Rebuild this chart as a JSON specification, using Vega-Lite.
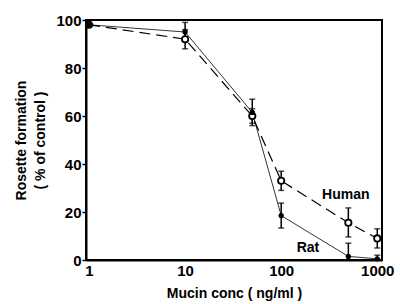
{
  "$schema": "https://vega.github.io/schema/vega-lite/v6.json",
  "width": 296,
  "height": 240,
  "autosize": {"type": "none"},
  "padding": {"left": 86, "top": 20, "right": 18, "bottom": 44},
  "background": "white",
  "config": {
    "view": {"stroke": "black", "strokeWidth": 2},
    "font": "Liberation Sans",
    "axis": {"grid": false, "domainColor": "black", "domainWidth": 2, "tickColor": "black", "labelColor": "black", "titleColor": "black", "labelFont": "Liberation Sans", "titleFont": "Liberation Sans", "labelFontWeight": "bold", "titleFontWeight": "bold", "labelFontSize": 15, "titleFontSize": 14}
  },
  "data": {
    "values": [
      {"series": "Human", "conc": 1, "val": 98, "lo": 98, "hi": 98},
      {"series": "Human", "conc": 10, "val": 92, "lo": 88, "hi": 96},
      {"series": "Human", "conc": 50, "val": 60, "lo": 57, "hi": 63},
      {"series": "Human", "conc": 100, "val": 33, "lo": 29, "hi": 37},
      {"series": "Human", "conc": 500, "val": 15.5, "lo": 9.6, "hi": 21.7},
      {"series": "Human", "conc": 1000, "val": 9, "lo": 5, "hi": 13},
      {"series": "Rat", "conc": 1, "val": 98, "lo": 98, "hi": 98},
      {"series": "Rat", "conc": 10, "val": 95, "lo": 91, "hi": 99},
      {"series": "Rat", "conc": 50, "val": 61.5, "lo": 56, "hi": 67},
      {"series": "Rat", "conc": 100, "val": 18.5, "lo": 13.3, "hi": 23.7},
      {"series": "Rat", "conc": 500, "val": 1.5, "lo": 0, "hi": 7},
      {"series": "Rat", "conc": 1000, "val": 0.5, "lo": 0, "hi": 2}
    ]
  },
  "encoding": {
    "x": {"field": "conc", "type": "quantitative", "scale": {"type": "log", "domain": [0.93, 1120], "nice": false},
      "axis": {"values": [1, 10, 100, 1000], "format": "d", "title": "Mucin conc ( ng/ml )", "tickSize": 0, "labelPadding": 3, "titlePadding": 8}},
    "y": {"field": "val", "type": "quantitative", "scale": {"domain": [0, 100], "nice": false},
      "axis": {"values": [0, 20, 40, 60, 80, 100], "title": ["Rosette formation", "( % of control )"], "tickSize": 4, "tickWidth": 1.5, "labelPadding": 1, "titlePadding": 8, "titleLineHeight": 19}}
  },
  "layer": [
    {
      "transform": [{"filter": "datum.series == 'Human'"}],
      "mark": {"type": "line", "color": "black", "strokeWidth": 1.2, "strokeDash": [11, 6]}
    },
    {
      "transform": [{"filter": "datum.series == 'Rat'"}],
      "mark": {"type": "line", "color": "black", "strokeWidth": 0.8}
    },
    {
      "mark": {"type": "errorbar", "color": "black", "thickness": 1.5, "ticks": {"size": 6, "color": "black", "thickness": 1.5}},
      "encoding": {
        "y": {"field": "lo", "type": "quantitative", "title": null},
        "y2": {"field": "hi"}
      }
    },
    {
      "transform": [{"filter": "datum.series == 'Human'"}],
      "mark": {"type": "point", "shape": "circle", "filled": true, "fill": "white", "stroke": "black", "strokeWidth": 1.8, "size": 40, "opacity": 1}
    },
    {
      "transform": [{"filter": "datum.series == 'Rat'"}],
      "mark": {"type": "point", "shape": "circle", "filled": true, "color": "black", "size": 28, "opacity": 1}
    },
    {
      "data": {"values": [{"label": "Human", "tx": 470, "ty": 27}, {"label": "Rat", "tx": 190, "ty": 5}]},
      "mark": {"type": "text", "font": "Liberation Sans", "fontWeight": "bold", "fontSize": 14, "color": "black"},
      "encoding": {
        "x": {"field": "tx", "type": "quantitative"},
        "y": {"field": "ty", "type": "quantitative"},
        "text": {"field": "label"}
      }
    }
  ]
}
